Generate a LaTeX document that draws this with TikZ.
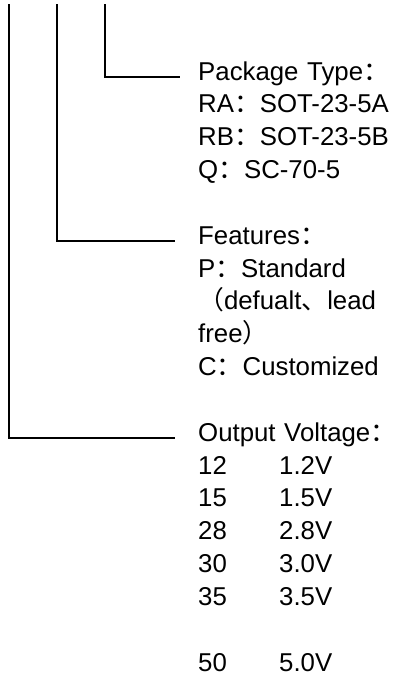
\documentclass[tikz,border=0pt]{standalone}
\usepackage{fontspec}
\setmainfont{Liberation Sans}
\newfontfamily\cjk{Noto Sans CJK SC}
\usetikzlibrary{positioning}
\newcommand{\zh}[1]{{\cjk #1}}
\newcommand{\vrow}[2]{\makebox[81pt][l]{#1}#2}

\begin{document}
\begin{tikzpicture}[x=1pt,y=-1pt,node distance=0pt,
  txt/.style={text width=240pt,align=left,inner xsep=0pt,inner ysep=0pt,minimum height=32.5pt,text height=16pt,text depth=10pt,font=\fontsize{25.8}{30}\selectfont},
  lead/.style={line width=1.6pt}]
\useasboundingbox (0,0) rectangle (399,694);
% package type
\node[txt,anchor=west] (pkg) at (198,77) {Package Type\zh{：}};
\node[txt,below=of pkg] (ra) {RA\zh{：}SOT-23-5A};
\node[txt,below=of ra] (rb) {RB\zh{：}SOT-23-5B};
\node[txt,below=of rb] (q) {Q\zh{：}SC-70-5};
% features
\node[txt,below=32.5pt of q] (feat) {Features\zh{：}};
\node[txt,below=of feat] (std) {P\zh{：}Standard};
\node[txt,below=of std] (dflt) {\zh{（}defualt\zh{、}lead};
\node[txt,below=of dflt] (free) {free\zh{）}};
\node[txt,below=of free] (cust) {C\zh{：}Customized};
% output voltage
\node[txt,below=32.5pt of cust] (vout) {Output Voltage\zh{：}};
\node[txt,below=of vout] (v12) {\vrow{12}{1.2V}};
\node[txt,below=of v12] (v15) {\vrow{15}{1.5V}};
\node[txt,below=of v15] (v28) {\vrow{28}{2.8V}};
\node[txt,below=of v28] (v30) {\vrow{30}{3.0V}};
\node[txt,below=of v30] (v35) {\vrow{35}{3.5V}};
\node[txt,below=32.5pt of v35] (v50) {\vrow{50}{5.0V}};
% leads
\coordinate (top1) at (9,4);
\coordinate (top2) at (57,4);
\coordinate (top3) at (105,4);
\draw[lead] (top3) |- ([xshift=-18pt]pkg.west);
\draw[lead] (top2) |- ([xshift=-23pt]feat.west);
\draw[lead] (top1) |- ([xshift=-23pt]vout.west);
\end{tikzpicture}
\end{document}
